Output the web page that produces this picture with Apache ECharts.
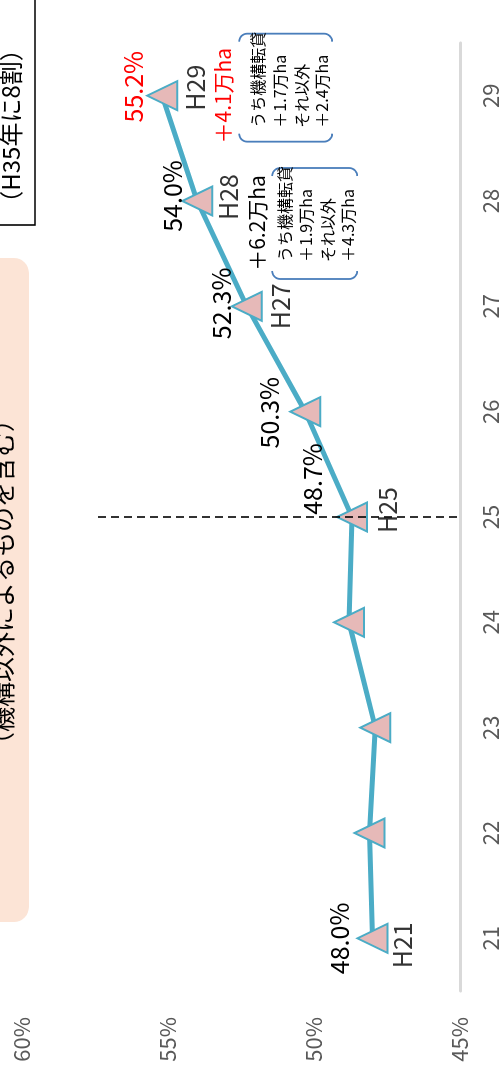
<!DOCTYPE html>
<html>
<head>
<meta charset="utf-8">
<script src="https://cdn.jsdelivr.net/npm/echarts@6/dist/echarts.min.js"></script>
<style>
  html, body { margin: 0; padding: 0; width: 504px; height: 1072px; overflow: hidden; background: #fff; }
  /* the chart is laid out landscape and turned a quarter counter-clockwise */
  #stage {
    position: absolute; left: 0; top: 0;
    width: 1072px; height: 504px;
    transform-origin: 0 0;
    transform: translate(0, 1072px) rotate(-90deg);
  }
</style>
</head>
<body>
<div id="stage"></div>
<script>
// fiscal years (Heisei), shown on the category axis
const years = ['21', '22', '23', '24', '25', '26', '27', '28', '29'];
// share of farmland held by core farmers (%)
const shares = [48.0, 48.1, 47.9, 48.8, 48.7, 50.3, 52.3, 54.0, 55.2];
// era tags printed beside selected points
const eraTags = ['H21', '', '', '', 'H25', '', 'H27', 'H28', 'H29'];
// which points carry a percentage label
const shareTagged = [true, false, false, false, true, true, true, true, true];
// value axis range and step
const axisMin = 45, axisMax = 60, axisStep = 5;
// yearly increase call-outs
const gainYears = ['28', '29'];
const gainTotals = ['＋6.2万ha', '＋4.1万ha'];
const gainBreakdown = [
  ['うち機構転貸', '＋1.9万ha', 'それ以外', '＋4.3万ha'],
  ['うち機構転貸', '＋1.7万ha', 'それ以外', '＋2.4万ha']
];
const targetNote = '（H35年に8割）';
const scopeNote = '（機構以外によるものを含む）';
const baseYear = '25';

// label placement relative to each point (px)
const pctOffset = [[0, -33], null, null, null, [38, -39], [-1, -36], [3, -25], [5, -25], [9, -29]];
const eraOffset = [[-7, 30], null, null, null, [7, 36], null, [0, 34], [4, 31], [8, 33]];
const highlightLast = '#FF0000';

const FONT = '"Noto Sans CJK JP", "Noto Sans", sans-serif';
const LINE = '#4BACC6';
const LABEL_SIZE = 25;

const chart = echarts.init(document.getElementById('stage'));

const lineData = shares.map((v, i) => ({
  value: v,
  label: shareTagged[i] ? {
    show: true,
    position: 'inside',
    offset: pctOffset[i],
    fontSize: LABEL_SIZE,
    fontFamily: FONT,
    color: i === shares.length - 1 ? highlightLast : '#000',
    formatter: (p) => p.value.toFixed(1) + '%'
  } : { show: false }
}));

const tagData = shares.map((v, i) => ({
  value: v,
  label: eraTags[i] ? {
    show: true,
    position: 'inside',
    offset: eraOffset[i],
    fontSize: LABEL_SIZE,
    fontFamily: FONT,
    color: '#000',
    formatter: eraTags[i]
  } : { show: false }
}));

chart.setOption({
  animation: false,
  backgroundColor: '#fff',
  grid: { left: 81, right: 43, top: 22, bottom: 44 },
  xAxis: {
    type: 'category',
    data: years,
    boundaryGap: true,
    axisLine: { lineStyle: { color: '#D9D9D9', width: 3 } },
    axisTick: { show: false },
    axisLabel: { color: '#595959', fontSize: 22, fontFamily: FONT, margin: 20 }
  },
  yAxis: {
    type: 'value',
    min: axisMin, max: axisMax, interval: axisStep,
    axisLine: { show: false },
    axisTick: { show: false },
    splitLine: { show: false },
    axisLabel: { color: '#595959', fontSize: 22, fontFamily: FONT, margin: 26, formatter: '{value}%' }
  },
  series: [
    {
      type: 'line',
      data: lineData,
      z: 3,
      lineStyle: { color: LINE, width: 5 },
      symbol: 'triangle',
      symbolSize: [29, 30],
      itemStyle: { color: '#E6B9B8', borderColor: LINE, borderWidth: 2 },
      label: { show: false, fontSize: LABEL_SIZE, fontFamily: FONT, color: '#000' },
      markLine: {
        silent: true,
        symbol: ['none', 'none'],
        label: { show: false },
        lineStyle: { color: '#000', type: [8, 5], width: 1.6 },
        z: 10,
        data: [[{ coord: [baseYear, 57.4] }, { coord: [baseYear, axisMin] }]]
      }
    },
    {
      type: 'scatter',
      data: tagData,
      silent: true,
      symbolSize: 1,
      itemStyle: { color: 'rgba(0,0,0,0)' },
      label: { show: false, fontSize: LABEL_SIZE, fontFamily: FONT, color: '#000' },
      z: 4
    }
  ]
});

// one side of a "[ ]" pair with rounded hooks; dir = +1 for the left side, -1 for the right
function bracketPoints(x, y0, y1, r, dir) {
  const pts = [];
  const steps = 8;
  for (let s = 0; s <= steps; s++) {
    const t = (Math.PI / 2) * s / steps;
    pts.push([x + dir * r - dir * r * Math.sin(t), y0 + r - r * Math.cos(t)]);
  }
  for (let s = 0; s <= steps; s++) {
    const t = (Math.PI / 2) * s / steps;
    pts.push([x + dir * r - dir * r * Math.cos(t), y1 - r + r * Math.sin(t)]);
  }
  return pts;
}

function bracket(x, y0, y1, dir) {
  return {
    type: 'polyline', z: 20, silent: true,
    shape: { points: bracketPoints(x, y0, y1, 8, dir) },
    style: { fill: null, stroke: '#4A7EBB', lineWidth: 1.8 }
  };
}

function txt(text, x, y, size, color, align) {
  return {
    type: 'text', z: 20, silent: true,
    style: {
      text: text, x: x, y: y, fill: color,
      font: size + 'px ' + FONT,
      align: align, verticalAlign: 'middle',
      textAlign: align, textVerticalAlign: 'middle'
    }
  };
}

// call-out geometry relative to its point
const calloutLayout = [
  { total: [-22, 60], box: [-78, 33, 75, 160], textX: -61, rows: [88, 109, 131, 151], color: '#000' },
  { total: [0, 61], box: [-46, 62, 77, 170], textX: -32, rows: [96, 118, 140, 160], color: highlightLast }
];

const graphics = [];

// shaded scope note along the top edge
graphics.push({
  type: 'rect', z: 1, silent: true,
  shape: { x: 150, y: -30, width: 664, height: 59, r: 15 },
  style: { fill: '#FCE4D6' }
});
graphics.push(txt(scopeNote, 490, 2, 25, '#000', 'center'));

// boxed target note in the corner
graphics.push({
  type: 'rect', z: 1, silent: true,
  shape: { x: 847, y: -30, width: 260, height: 65 },
  style: { fill: '#fff', stroke: '#000', lineWidth: 1.6 }
});
graphics.push(txt(targetNote, 946, 11, 24, '#000', 'center'));

gainYears.forEach((yr, k) => {
  const idx = years.indexOf(yr);
  const p = chart.convertToPixel({ gridIndex: 0 }, [idx, shares[idx]]);
  const L = calloutLayout[k];
  graphics.push(txt(gainTotals[k], p[0] + L.total[0], p[1] + L.total[1], 21, L.color, 'center'));
  graphics.push(bracket(p[0] + L.box[0], p[1] + L.box[2], p[1] + L.box[3], 1));
  graphics.push(bracket(p[0] + L.box[1], p[1] + L.box[2], p[1] + L.box[3], -1));
  gainBreakdown[k].forEach((line, j) => {
    graphics.push(txt(line, p[0] + L.textX, p[1] + L.rows[j], 16, '#000', 'left'));
  });
});

chart.setOption({ graphic: graphics });
</script>
</body>
</html>
